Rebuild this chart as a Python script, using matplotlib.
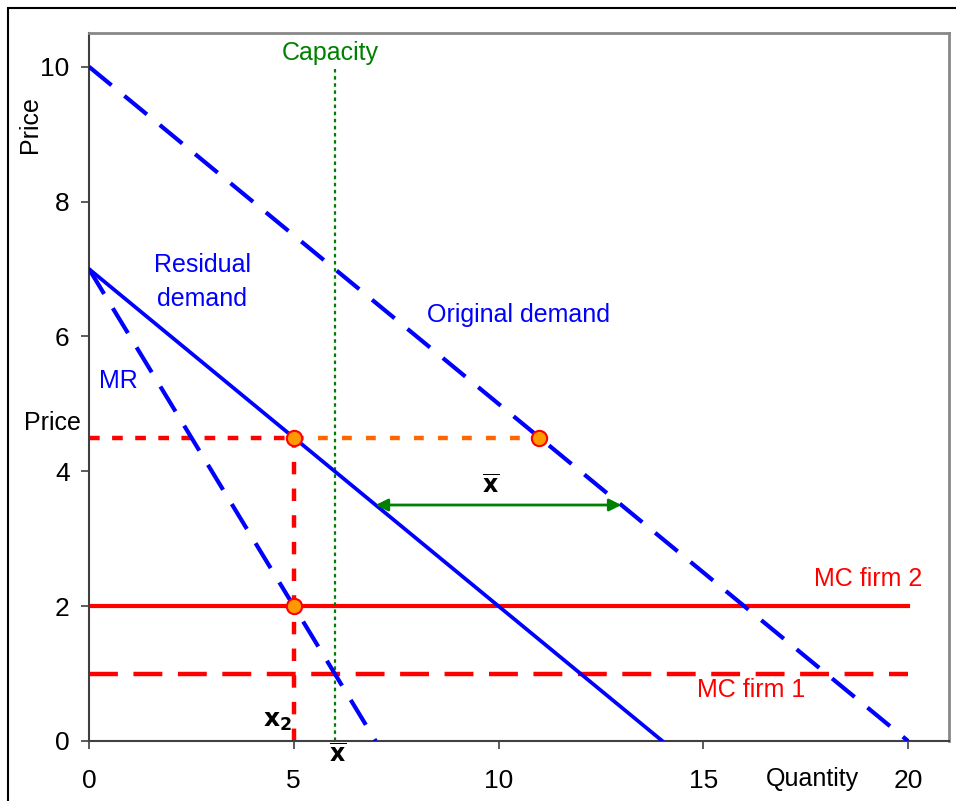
import matplotlib
matplotlib.use("Agg")
import matplotlib.pyplot as plt
from matplotlib.patches import Rectangle

plt.rcParams["font.family"] = ["Liberation Sans", "DejaVu Sans"]

# demand curves (quantity, price)
orig_q = [0, 20]
orig_p = [10, 0]
resid_q = [0, 14]
resid_p = [7, 0]
mr_q = [0, 7]
mr_p = [7, 0]

# cost levels and markers
mc1 = 1
mc2 = 2
q_end = 20
capacity = 6
price = 4.5
x2 = 5
pts_q = [5, 5, 11]
pts_p = [4.5, 2, 4.5]
arrow_q = [7, 13]
arrow_p = 3.5

xticks = [0, 5, 10, 15, 20]
yticks = [0, 2, 4, 6, 8, 10]

BLUE = "#0000FF"
RED = "#FF0000"
GREEN = "#008000"

fig = plt.figure(figsize=(9.56, 8.01), dpi=100)
ax = fig.add_axes([89 / 956, 60 / 801, 860 / 956, 708 / 801])

# outer chart border
fig.patches.append(Rectangle((8 / 956, -0.1), 1.2, 1 - 8 / 801 + 0.1,
                             transform=fig.transFigure, fill=False,
                             edgecolor="black", linewidth=1.5))

ax.plot(orig_q, orig_p, color=BLUE, lw=3, linestyle=(0, (7, 4)),
        solid_capstyle="round", dash_capstyle="butt", zorder=3)
ax.plot(resid_q, resid_p, color=BLUE, lw=2.7, zorder=3)
ax.plot(mr_q, mr_p, color=BLUE, lw=3, linestyle=(0, (7, 4)), zorder=3)

ax.plot([0, q_end], [mc2, mc2], color=RED, lw=3, zorder=2)
ax.plot([0, q_end], [mc1, mc1], color=RED, lw=3.2, linestyle=(0, (6.5, 3.5)), zorder=2)

ax.plot([capacity, capacity], [0, 10], color=GREEN, lw=1.6,
        linestyle=(0, (1.6, 1.6)), zorder=2)

ax.plot([0, x2], [price, price], color=RED, lw=3.2, linestyle=(0, (2.4, 2.8)), zorder=2)
ax.plot([x2, pts_q[2]], [price, price], color="#FF6600", lw=3.2,
        linestyle=(0, (2.2, 3.2)), zorder=2)
ax.plot([x2, x2], [0, price], color=RED, lw=3.2, linestyle=(0, (2.8, 3.2)), zorder=2)

ax.plot(pts_q, pts_p, linestyle="none", marker="o", markersize=11,
        markerfacecolor="#FF9900", markeredgecolor=RED, markeredgewidth=1.5, zorder=5)

ax.annotate("", xy=(arrow_q[1], arrow_p), xytext=(arrow_q[0], arrow_p),
            arrowprops=dict(arrowstyle="<|-|>", color=GREEN, lw=2,
                            mutation_scale=18, shrinkA=0, shrinkB=0), zorder=4)

ax.text(capacity - 0.1, 10.21, "Capacity", color=GREEN, fontsize=18,
        ha="center", va="center")
ax.text(2.76, 6.81, "Residual\ndemand", color=BLUE, fontsize=18,
        ha="center", va="center", linespacing=1.55)
ax.text(10.48, 6.32, "Original demand", color=BLUE, fontsize=18,
        ha="center", va="center")
ax.text(0.71, 5.34, "MR", color=BLUE, fontsize=18, ha="center", va="center")
ax.text(19.02, 2.40, "MC firm 2", color=RED, fontsize=18, ha="center", va="center")
ax.text(16.17, 0.76, "MC firm 1", color=RED, fontsize=18, ha="center", va="center")
ax.text(9.8, 3.77, r"$\overline{\mathbf{x}}$", fontsize=17, ha="center", va="center")
ax.text(6.08, -0.22, r"$\overline{\mathbf{x}}$", fontsize=17, ha="center",
        va="center", clip_on=False)
ax.text(4.6, 0.3, r"$\mathbf{x_2}$", fontsize=18, ha="center", va="center")
ax.text(-0.9, 4.72, "Price", fontsize=18, ha="center", va="center", clip_on=False)
ax.text(17.66, -0.56, "Quantity", fontsize=18, ha="center", va="center", clip_on=False)
ax.text(-1.44, 9.14, "Price", fontsize=18, ha="center", va="center",
        rotation=90, clip_on=False)

ax.set_xlim(0, 21)
ax.set_ylim(0, 10.5)
ax.set_xticks(xticks)
ax.set_yticks(yticks)
ax.tick_params(axis="both", labelsize=19, direction="out", length=6,
               width=1.2, colors="#404040", labelcolor="black")
ax.tick_params(axis="y", pad=8)
ax.tick_params(axis="x", pad=14)

for side in ["left", "bottom"]:
    ax.spines[side].set_color("#404040")
    ax.spines[side].set_linewidth(1.5)
for side in ["top", "right"]:
    ax.spines[side].set_color("#888888")
    ax.spines[side].set_linewidth(2)

fig.savefig("out.png", dpi=100)
